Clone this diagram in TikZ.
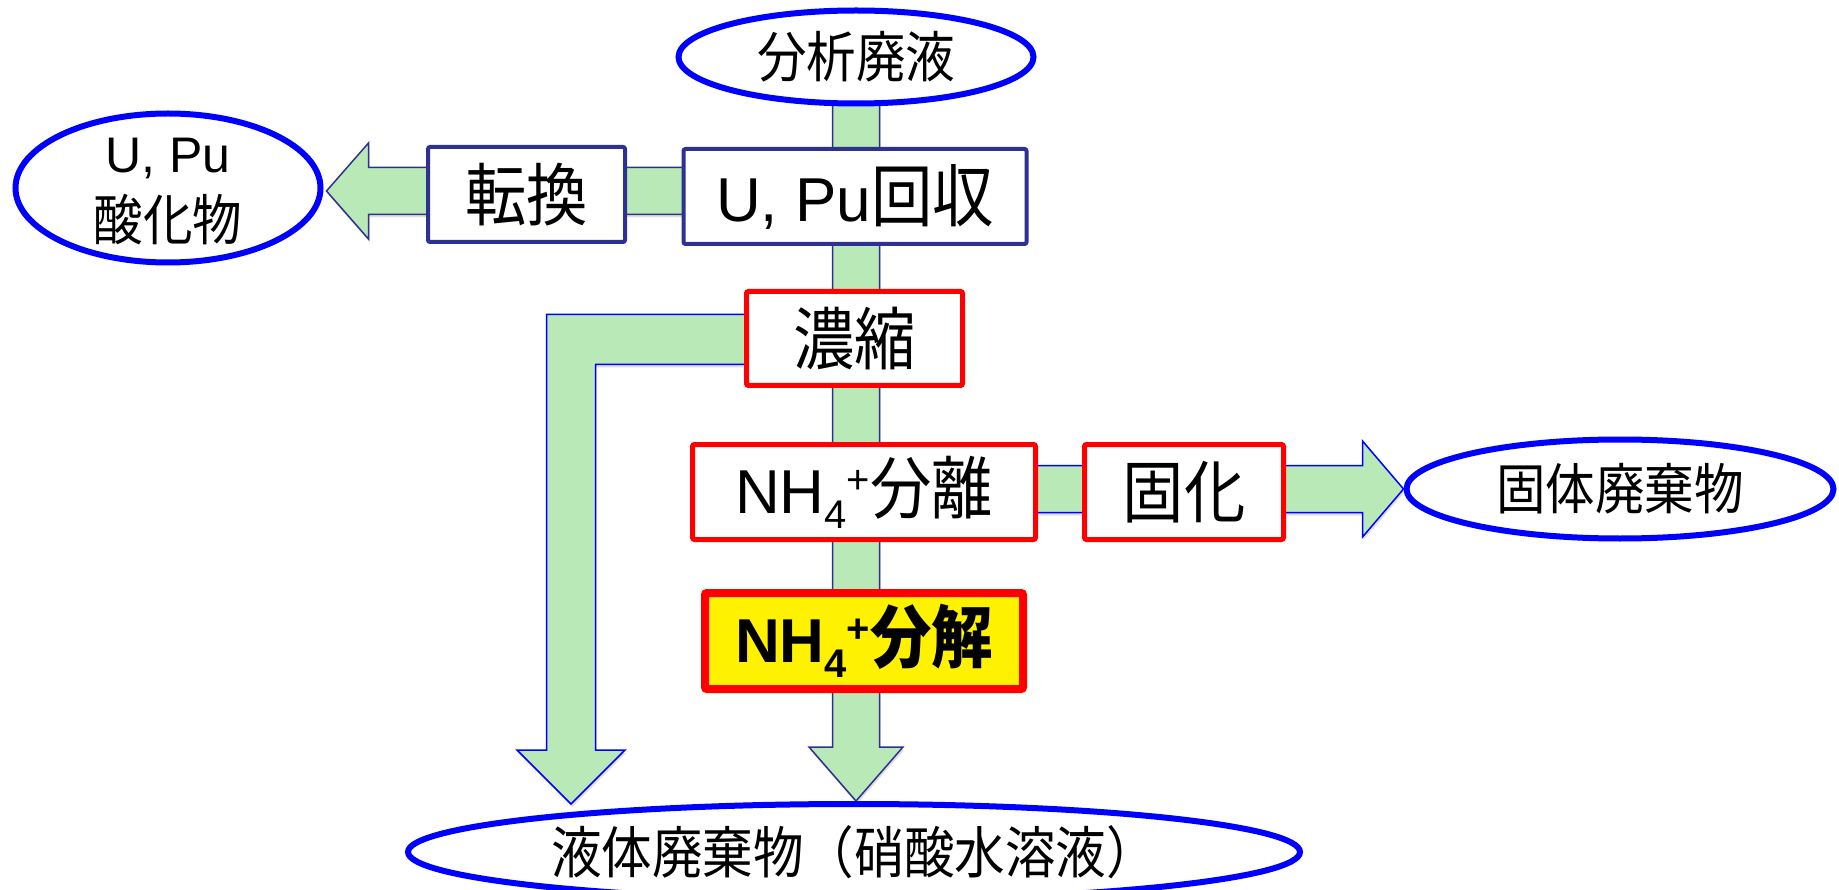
\documentclass[tikz,border=0pt]{standalone}
\usepackage{fontspec}
\setmainfont{Liberation Sans}
\newfontfamily\cjk{Noto Sans CJK JP}[Scale=1.1, FakeStretch=0.9]
\usetikzlibrary{shapes.geometric,calc,shadows}
\definecolor{arrgreen}{RGB}{184,233,182}
\definecolor{navyline}{RGB}{46,49,146}
\definecolor{ellblue}{RGB}{0,0,255}
\pgfdeclarelayer{bg}
\pgfsetlayers{bg,main}
\newcommand{\nhfour}{NH\raisebox{-15pt}{\fontsize{40}{40}\selectfont 4}\raisebox{20pt}{\fontsize{40}{40}\selectfont +}}
\tikzset{
  ell/.style={ellipse, draw=ellblue, line width=6pt, fill=white, inner sep=0pt},
  navybox/.style={rectangle, draw=navyline, line width=4pt, fill=white, rounded corners=2pt, inner sep=0pt},
  redbox/.style={rectangle, draw=red, line width=5pt, fill=white, rounded corners=2pt, inner sep=0pt},
  boxfont/.style={font=\fontsize{62}{70}\selectfont},
  ellfont/.style={font=\fontsize{50}{60}\selectfont},
  bigarrow/.style={fill=arrgreen, draw=navyline, line width=1.5pt, line join=miter,
    drop shadow={shadow xshift=1pt, shadow yshift=-3pt, opacity=0.25}},
  bigarrowb/.style={bigarrow, draw=ellblue},
}
\begin{document}
\begin{tikzpicture}[x=1pt,y=-1pt]
\useasboundingbox (0,0) rectangle (1839,890);
% ellipses
\node[ell, ellfont, minimum width=355, minimum height=93] (src) at (856,57) {\cjk 分析廃液};
\node[ell, minimum width=305, minimum height=149] (ox) at (168,188) {};
\node[align=center, font=\fontsize{50}{68}\selectfont] (oxt) at (168,192) {U, Pu\\{\cjk 酸化物}};
\node[ell, ellfont, minimum width=427, minimum height=99] (sol) at (1620,489) {\cjk 固体廃棄物};
\node[ell, font=\fontsize{51}{58}\selectfont, minimum width=892, minimum height=96] (lw) at (854,852) {\cjk 液体廃棄物（硝酸水溶液）};
% boxes
\node[navybox, boxfont, minimum width=343, minimum height=95] (rec) at (855,196.5) {U, Pu{\cjk 回収}};
\node[navybox, boxfont, minimum width=197, minimum height=95] (conv) at (526.5,194.5) {\cjk 転換};
\node[redbox, boxfont, minimum width=216, minimum height=94] (conc) at (854.5,338.5) {\cjk 濃縮};
\node[redbox, boxfont, minimum width=343, minimum height=95] (sep) at (864,492) {\nhfour{\cjk 分離}};
\node[redbox, boxfont, minimum width=199, minimum height=95] (fix) at (1184,492) {\cjk 固化};
\node[redbox, boxfont, font=\fontsize{62}{70}\selectfont\bfseries, line width=8pt, fill=yellow, minimum width=318, minimum height=96] (dec) at (864,641) {\nhfour{\cjk 分解}};
% arrow tips
\coordinate (tM) at (src.center |- lw.north);
\coordinate (tL) at ($(ox.east)+(3,3)$);
\coordinate (tR) at (sol.west);
\coordinate (tB) at (571,804);
\begin{pgfonlayer}{bg}
% main vertical flow
\path[bigarrow] ($(src.center)+(-23.5,0)$) -- ($(tM)+(-23.5,-54)$) -- ($(tM)+(-47,-54)$) -- (tM)
  -- ($(tM)+(47,-54)$) -- ($(tM)+(23.5,-54)$) -- ($(src.center)+(23.5,0)$) -- cycle;
% to U,Pu oxide
\path[bigarrow] ($(rec.center |- tL)+(0,-23.5)$) -- ($(tL)+(42,-23.5)$) -- ($(tL)+(42,-48)$) -- (tL)
  -- ($(tL)+(42,48)$) -- ($(tL)+(42,23.5)$) -- ($(rec.center |- tL)+(0,23.5)$) -- cycle;
% to solid waste
\path[bigarrowb] ($(sep.center |- tR)+(0,-23.5)$) -- ($(tR)+(-41,-23.5)$) -- ($(tR)+(-41,-48)$) -- (tR)
  -- ($(tR)+(-41,48)$) -- ($(tR)+(-41,23.5)$) -- ($(sep.center |- tR)+(0,23.5)$) -- cycle;
% bypass from concentration
\path[bigarrowb] ($(conc.center)+(0,-24)$) -- ($(conc.center -| tB)+(-24.5,-24)$) -- ($(tB)+(-24.5,-54)$)
  -- ($(tB)+(-54,-54)$) -- (tB) -- ($(tB)+(54,-54)$) -- ($(tB)+(24.5,-54)$)
  -- ($(conc.center -| tB)+(24.5,26)$) -- ($(conc.center)+(0,26)$) -- cycle;
\end{pgfonlayer}
\end{tikzpicture}
\end{document}
